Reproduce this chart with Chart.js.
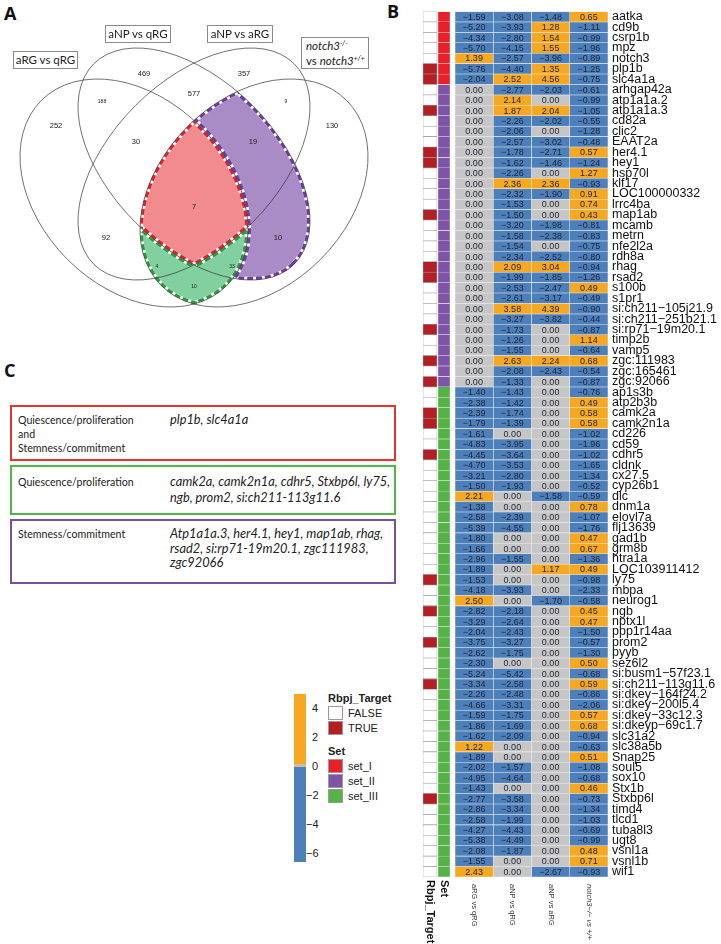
<!DOCTYPE html>
<html><head><meta charset="utf-8">
<script src="https://cdn.jsdelivr.net/npm/chart.js@4.4.0/dist/chart.umd.min.js"></script>
<style>
body{margin:0;background:#fff;width:721px;height:944px;overflow:hidden;position:relative;font-family:Lato,"Open Sans",sans-serif;color:#222}
.abs{position:absolute}
.plab{position:absolute;font-family:"Open Sans",sans-serif;font-weight:700;font-size:18px;line-height:18px;color:#111}
.vbox{position:absolute;box-sizing:border-box;border:1px solid #8a8a8a;font-size:11.5px;line-height:15px;text-align:center;color:#222;background:#fff}
.sp{position:relative;top:-4px;font-size:7px;font-style:italic}
.tbox{position:absolute;box-sizing:border-box;left:10px;width:386px;border:2px solid;color:#222}
.tl{position:absolute;left:6px;font-size:10.6px;line-height:14px;white-space:nowrap}
.tr{position:absolute;left:158px;font-style:italic;font-size:12.8px;line-height:15px;white-space:nowrap}
.leg{position:absolute;font-family:"Liberation Sans",Arial,sans-serif;font-size:11px;line-height:13px;color:#222}
.sw{position:absolute;width:15px;height:14px;box-sizing:border-box;border:1px solid #9a9a9a}
</style></head><body>

<div class="plab" style="left:4px;top:4px">A</div>
<div class="plab" style="left:387px;top:2px">B</div>
<div class="plab" style="left:4px;top:361px">C</div>

<canvas id="venn" class="abs" style="left:0;top:0" width="385" height="330"></canvas>
<div class="vbox" style="left:13px;top:51px;width:65px;height:18px">aRG vs qRG</div>
<div class="vbox" style="left:105px;top:25px;width:66px;height:18px">aNP vs qRG</div>
<div class="vbox" style="left:207px;top:25px;width:66px;height:18px">aNP vs aRG</div>
<div class="vbox" style="left:301px;top:37px;width:68px;height:32px;text-align:left;padding-left:4px;padding-top:1px;line-height:14px"><i>notch3</i><span class="sp">-/-</span><br>vs <i>notch3</i><span class="sp">+/+</span></div>

<div class="tbox" style="top:405px;height:56px;border-color:#e5362c">
  <div class="tl" style="top:6px">Quiescence/proliferation<br>and<br>Stemness/commitment</div>
  <div class="tr" style="top:5px">plp1b, slc4a1a</div>
</div>
<div class="tbox" style="top:465px;height:50px;border-color:#4cb848">
  <div class="tl" style="top:8px">Quiescence/proliferation</div>
  <div class="tr" style="top:6px;line-height:16px">camk2a, camk2n1a, cdhr5, Stxbp6l, ly75,<br>ngb, prom2, si:ch211-113g11.6</div>
</div>
<div class="tbox" style="top:519px;height:65px;border-color:#7a4f9f">
  <div class="tl" style="top:6px">Stemness/commitment</div>
  <div class="tr" style="top:5px;line-height:14.6px">Atp1a1a.3, her4.1, hey1, map1ab, rhag,<br>rsad2, si:rp71-19m20.1, zgc111983,<br>zgc92066</div>
</div>

<!-- legend -->
<div class="abs" style="left:294px;top:694px;width:12px;height:168px;background:linear-gradient(to bottom,#f6a821 0,#f6a821 70px,#c9c0a8 70px,#c9c0a8 73px,#4d80bb 73px,#4d80bb 100%)"></div>
<div class="leg" style="left:312px;top:702px">4</div>
<div class="leg" style="left:312px;top:731px">2</div>
<div class="leg" style="left:312px;top:760px">0</div>
<div class="leg" style="left:306px;top:789px">&minus;2</div>
<div class="leg" style="left:306px;top:818px">&minus;4</div>
<div class="leg" style="left:306px;top:847px">&minus;6</div>
<div class="leg" style="left:328px;top:692px;font-weight:700">Rbpj_Target</div>
<div class="sw" style="left:328px;top:706px;background:#fff"></div>
<div class="sw" style="left:328px;top:721px;background:#b31f24"></div>
<div class="leg" style="left:348px;top:707px">FALSE</div>
<div class="leg" style="left:348px;top:722px">TRUE</div>
<div class="leg" style="left:328px;top:745px;font-weight:700">Set</div>
<div class="sw" style="left:328px;top:759px;background:#e8202a"></div>
<div class="sw" style="left:328px;top:774px;background:#7e55a6"></div>
<div class="sw" style="left:328px;top:789px;background:#55b246"></div>
<div class="leg" style="left:348px;top:760px">set_I</div>
<div class="leg" style="left:348px;top:775px">set_II</div>
<div class="leg" style="left:348px;top:790px">set_III</div>

<canvas id="heat" class="abs" style="left:380px;top:0" width="341" height="944"></canvas>

<script>
// ---------------- DATA ----------------
const genes = ["aatka","cd9b","csrp1b","mpz","notch3","plp1b","slc4a1a",
"arhgap42a","atp1a1a.2","atp1a1a.3","cd82a","clic2","EAAT2a","her4.1","hey1","hsp70l","klf17","LOC100000332","lrrc4ba","map1ab","mcamb","metrn","nfe2l2a","rdh8a","rhag","rsad2","s100b","s1pr1","si:ch211\u2212105j21.9","si:ch211\u2212251b21.1","si:rp71\u221219m20.1","timp2b","vamp5","zgc:111983","zgc:165461","zgc:92066",
"ap1s3b","atp2b3b","camk2a","camk2n1a","cd226","cd59","cdhr5","cldnk","cx27.5","cyp26b1","dlc","dnm1a","elovl7a","flj13639","gad1b","grm8b","htra1a","LOC103911412","ly75","mbpa","neurog1","ngb","nptx1l","ppp1r14aa","prom2","pyyb","sez6l2","si:busm1\u221257f23.1","si:ch211\u2212113g11.6","si:dkey\u2212164f24.2","si:dkey\u2212200l5.4","si:dkey\u221233c12.3","si:dkeyp\u221269c1.7","slc31a2","slc38a5b","Snap25","soul5","sox10","Stx1b","Stxbp6l","timd4","tlcd1","tuba8l3","ugt8","vsnl1a","vsnl1b","wif1"];

const setI   = ["aatka","cd9b","csrp1b","mpz","notch3","plp1b","slc4a1a"];
const setII  = ["arhgap42a","atp1a1a.2","atp1a1a.3","cd82a","clic2","EAAT2a","her4.1","hey1","hsp70l","klf17","LOC100000332","lrrc4ba","map1ab","mcamb","metrn","nfe2l2a","rdh8a","rhag","rsad2","s100b","s1pr1","si:ch211\u2212105j21.9","si:ch211\u2212251b21.1","si:rp71\u221219m20.1","timp2b","vamp5","zgc:111983","zgc:165461","zgc:92066"];

const rbpjTargets = ["plp1b","slc4a1a","atp1a1a.3","her4.1","hey1","map1ab","rhag","rsad2","si:rp71\u221219m20.1","zgc:111983","zgc:92066",
"camk2a","camk2n1a","cdhr5","ly75","ngb","prom2","si:ch211\u2212113g11.6","Stxbp6l"];

const columnLabels = ["aRG vs qRG","aNP vs qRG","aNP vs aRG","notch3\u2212/\u2212 vs +/+"];

const aRG_vs_qRG = [-1.59,-5.20,-4.34,-5.70,1.39,-5.76,-2.04,
0,0,0,0,0,0,0,0,0,0,0,0,0,0,0,0,0,0,0,0,0,0,0,0,0,0,0,0,0,
-1.40,-2.38,-2.39,-1.79,-1.61,-4.83,-4.45,-4.70,-3.21,-1.50,2.21,-1.38,-2.58,-5.39,-1.80,-1.66,-2.96,-1.89,-1.53,-4.18,2.50,-2.82,-3.29,-2.04,-3.75,-2.62,-2.30,-5.24,-3.34,-2.26,-4.66,-1.59,-1.86,-1.62,1.22,-1.89,-2.02,-4.95,-1.43,-2.77,-2.86,-2.58,-4.27,-5.38,-2.08,-1.55,2.43];

const aNP_vs_qRG = [-3.08,-3.93,-2.80,-4.15,-2.57,-4.40,2.52,
-2.77,2.14,1.87,-2.26,-2.06,-2.57,-1.78,-1.62,-2.26,2.36,-2.32,-1.53,-1.50,-3.20,-1.58,-1.54,-2.34,2.09,-1.99,-2.53,-2.61,3.58,-3.27,-1.73,-1.26,-1.55,2.63,-2.08,-1.33,
-1.43,-1.42,-1.74,-1.39,0,-3.95,-3.64,-3.53,-2.80,-1.93,0,0,-2.39,-4.55,0,0,-1.55,0,0,-3.93,0,-2.18,-2.64,-2.43,-3.27,-1.75,0,-5.42,-2.58,-2.48,-3.31,-1.75,-1.69,-2.09,0,0,-1.57,-4.64,0,-3.58,-3.34,-1.99,-4.43,-4.49,-1.87,0,0];

const aNP_vs_aRG = [-1.48,1.28,1.54,1.55,-3.96,1.35,4.56,
-2.03,0,2.04,-2.02,0,-3.02,-2.71,-1.46,0,2.36,-1.90,0,0,-1.98,-2.38,0,-2.52,3.04,-1.85,-2.47,-3.17,4.39,-3.82,0,0,0,2.24,-2.43,0,
0,0,0,0,0,0,0,0,0,0,-1.58,0,0,0,0,0,0,1.17,0,0,-1.70,0,0,0,0,0,0,0,0,0,0,0,0,0,0,0,0,0,0,0,0,0,0,0,0,0,-2.67];

const notch3_mut_vs_wt = [0.65,-1.11,-0.99,-1.96,-0.89,-1.25,-0.75,
-0.61,-0.99,-1.05,-0.55,-1.28,-0.48,0.57,-1.24,1.27,-0.93,0.91,0.74,0.43,-0.81,-0.83,-0.75,-0.80,-0.94,-1.26,0.49,-0.49,-0.90,-0.44,-0.87,1.14,-0.64,0.68,-0.54,-0.87,
-0.76,0.49,0.58,0.58,-1.02,-1.96,-1.02,-1.65,-1.34,-0.52,-0.59,0.78,-1.07,-1.76,0.47,0.67,-1.36,0.49,-0.98,-2.33,-0.58,0.45,0.47,-1.50,-0.57,-1.30,0.50,-0.68,0.59,-0.86,-2.06,0.57,0.68,-0.94,-0.63,0.51,-1.08,-0.68,0.46,-0.73,-1.34,-1.03,-0.69,-0.99,0.48,0.71,-0.93];

// Venn region counts
const vennCounts = [252,469,357,130,188,577,9,30,19,7,92,10,4,33,10];
const vennRegions = ["A","B","C","D","AB","BC","CD","ABC","BCD","ABCD","AC","BD","ACD","ABD","AD"];

// ---------------- LAYOUT / STYLE ----------------
const vennLabelPos = [[56,126],[144,74],[244,74],[332,126],[102,102],[194,94],[286,102],[136,142],[253,142],[194,207],[106,238],[278,238],[157,267],[232,267],[194,287]];
const vennSmall = [0,0,0,0,1,0,1,0,0,0,0,0,1,1,1];
const vennEllipses = [
  {cx:134,cy:193,a:131,b:94,rot:45},
  {cx:194,cy:164,a:141.7,b:82.7,rot:45},
  {cx:194,cy:164,a:141.7,b:82.7,rot:-45},
  {cx:254,cy:193,a:131,b:94,rot:-45}
];
const ORANGE="#f6a821", BLUE="#4d80bb", GRAY="#c6c6c6", DARKRED="#b31f24";
const SETCOL={I:"#e8202a",II:"#7e55a6",III:"#55b246"};

Chart.defaults.font.family='"Liberation Sans", Arial, sans-serif';
Chart.defaults.animation=false;

// ---------------- VENN ----------------
const vennPlugin = {
  id:'vennDraw',
  beforeDatasetsDraw(chart){
    const ctx=chart.ctx, xs=chart.scales.x, ys=chart.scales.y;
    const px=v=>xs.getPixelForValue(v), py=v=>ys.getPixelForValue(v);
    const k=(px(100)-px(0))/100;
    const W=chart.width,H=chart.height;
    const [A,B,C,D]=vennEllipses;
    function add(e){const r=e.rot*Math.PI/180,cx=px(e.cx),cy=py(e.cy);
      ctx.moveTo(cx+e.a*k*Math.cos(r),cy+e.a*k*Math.sin(r));
      ctx.ellipse(cx,cy,e.a*k,e.b*k,r,0,2*Math.PI);}
    function cin(e){ctx.beginPath();add(e);ctx.clip();}
    function cout(e){ctx.beginPath();ctx.rect(0,0,W,H);add(e);ctx.clip('evenodd');}
    function region(ins,outs,fn){ctx.save();ins.forEach(cin);outs.forEach(cout);fn();ctx.restore();}
    function fill(c){ctx.fillStyle=c;ctx.fillRect(0,0,W,H);}
    function dash(e,color){ctx.beginPath();add(e);ctx.lineWidth=6;ctx.setLineDash([]);ctx.strokeStyle='#fff';ctx.stroke();
      ctx.setLineDash([6,3]);ctx.strokeStyle=color;ctx.stroke();ctx.setLineDash([]);}
    const PF='#a98cc6',GF='#82cf9f',RF='#f28b8f';
    const PD='#6b3d9d',GD='#2b9a3c',RD='#e0202a';
    region([B,D],[A],()=>fill(PF));
    region([A,D],[],()=>fill(GF));
    region([A,B,C,D],[],()=>fill(RF));
    region([A,D],[B],()=>{dash(A,GD);dash(D,GD);});
    region([A,D],[C],()=>{dash(A,GD);dash(D,GD);});
    region([A,D,C],[B],()=>dash(B,GD));
    region([A,D,B],[C],()=>dash(C,GD));
    region([B,D],[A],()=>{dash(B,PD);dash(D,PD);dash(A,PD);});
    region([A,B,C,D],[],()=>{dash(A,RD);dash(B,RD);dash(C,RD);dash(D,RD);});
    ctx.save();ctx.lineWidth=0.7;ctx.strokeStyle='#333';
    vennEllipses.forEach(e=>{ctx.beginPath();add(e);ctx.stroke();});
    ctx.restore();
  },
  afterDatasetsDraw(chart){
    const ctx=chart.ctx, meta=chart.getDatasetMeta(0);
    ctx.save();ctx.fillStyle='#222';ctx.textAlign='center';ctx.textBaseline='middle';
    meta.data.forEach((pt,i)=>{
      ctx.font=(vennSmall[i]?'5px':'7.5px')+' "Liberation Sans", Arial';
      ctx.fillText(String(vennCounts[i]),pt.x,pt.y);
    });
    ctx.restore();
  }
};
new Chart(document.getElementById('venn'),{
  type:'scatter',
  data:{datasets:[{label:'regions',data:vennCounts.map((c,i)=>({x:vennLabelPos[i][0],y:vennLabelPos[i][1],region:vennRegions[i]})),pointRadius:0}]},
  options:{responsive:false,devicePixelRatio:1,layout:{padding:0},
    plugins:{legend:{display:false},tooltip:{enabled:false}},
    scales:{x:{type:'linear',min:0,max:385,display:false},y:{type:'linear',min:0,max:330,reverse:true,display:false}}},
  plugins:[vennPlugin]
});

// ---------------- HEATMAP ----------------
const colRanges=[[0,14],[15,27],[32,70.25],[70.25,108.5],[108.5,146.75],[146.75,185]];
const valueCols=[aRG_vs_qRG,aNP_vs_qRG,aNP_vs_aRG,notch3_mut_vs_wt];
const vColor=v=>v>0?ORANGE:(v<0?BLUE:GRAY);
const setOf=g=>setI.includes(g)?'I':(setII.includes(g)?'II':'III');

const datasets=[
  {label:'Rbpj_Target',data:genes.map(()=>colRanges[0]),backgroundColor:genes.map(g=>rbpjTargets.includes(g)?DARKRED:'#ffffff'),borderColor:'#9c9c9c',borderWidth:0.6},
  {label:'Set',data:genes.map(()=>colRanges[1]),backgroundColor:genes.map(g=>SETCOL[setOf(g)]),borderColor:'rgba(255,255,255,0.35)',borderWidth:0.5}
];
valueCols.forEach((col,j)=>datasets.push({label:columnLabels[j],values:col,data:genes.map(()=>colRanges[j+2]),
  backgroundColor:col.map(vColor),borderColor:'rgba(225,225,225,0.55)',borderWidth:0.6}));
datasets.forEach(d=>{d.grouped=false;d.barPercentage=1;d.categoryPercentage=1;d.borderSkipped=false;});

const heatText={
  id:'heatText',
  afterDatasetsDraw(chart){
    const ctx=chart.ctx;
    ctx.save();ctx.textAlign='center';ctx.textBaseline='middle';ctx.font='9px "Liberation Sans", Arial';ctx.fillStyle='#1d2333';
    for(let j=2;j<6;j++){
      const meta=chart.getDatasetMeta(j), vals=chart.data.datasets[j].values;
      meta.data.forEach((el,i)=>{const v=vals[i];
        const s=(v<0?'\u2212':'')+Math.abs(v).toFixed(2);
        ctx.fillText(s,(el.x+el.base)/2,el.y+0.5);});
    }
    const xs=chart.scales.x, bottom=chart.chartArea.bottom;
    ctx.textAlign='left';ctx.textBaseline='middle';
    for(let j=0;j<4;j++){
      const cx=xs.getPixelForValue((colRanges[j+2][0]+colRanges[j+2][1])/2);
      ctx.save();ctx.translate(cx,bottom+7);ctx.rotate(Math.PI/2);
      ctx.font=(j===3?'italic ':'')+'7.5px "Liberation Sans", Arial';ctx.fillStyle='#333';
      ctx.fillText(columnLabels[j],0,0);ctx.restore();
    }
    ['Rbpj_Target','Set'].forEach((t,j)=>{
      const cx=xs.getPixelForValue((colRanges[j][0]+colRanges[j][1])/2);
      ctx.save();ctx.translate(cx,bottom+3);ctx.rotate(Math.PI/2);
      ctx.font='bold 11px "Liberation Sans", Arial';ctx.fillStyle='#111';
      ctx.fillText(t,0,0);ctx.restore();
    });
    ctx.restore();
  }
};

new Chart(document.getElementById('heat'),{
  type:'bar',
  data:{labels:genes,datasets},
  options:{indexAxis:'y',responsive:false,devicePixelRatio:1,
    layout:{padding:{left:43,top:9,bottom:67,right:0}},
    plugins:{legend:{display:false},tooltip:{enabled:false}},
    scales:{
      x:{type:'linear',min:0,max:185,display:false},
      y:{type:'category',position:'right',offset:true,
         grid:{display:false,drawTicks:false},border:{display:false},
         ticks:{autoSkip:false,padding:4,color:'#111',font:{size:12.5,family:'"Liberation Sans", Arial'}},
         afterFit(a){a.width=113;}}
    }},
  plugins:[heatText]
});
</script>
</body></html>
